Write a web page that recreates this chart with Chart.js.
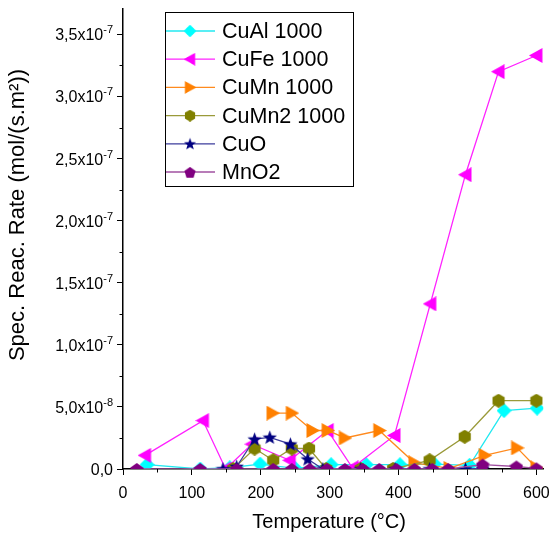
<!DOCTYPE html>
<html>
<head>
<meta charset="utf-8">
<script src="https://cdn.jsdelivr.net/npm/chart.js@4/dist/chart.umd.min.js"></script>
<style>
html, body { margin: 0; padding: 0; background: #fff; }
#wrap { width: 559px; height: 549px; position: relative; }
</style>
</head>
<body>
<div id="wrap"><canvas id="canvasId"></canvas></div>
<script>
// rates are in units of 1e-8 mol/(s.m2)
const seriesNames = ['CuAl 1000', 'CuFe 1000', 'CuMn 1000', 'CuMn2 1000', 'CuO', 'MnO2'];

const cuAlTemp = [35, 112, 155, 199, 250, 302, 353, 402, 452, 503, 553, 601];
const cuAlRate = [0.35, 0, 0.1, 0.4, 0.05, 0.35, 0.35, 0.35, 0.4, 0.3, 4.7, 4.9];

const cuFeTemp = [32, 116, 149, 187, 242, 297, 333, 394, 446, 497, 545, 600];
const cuFeRate = [1.1, 3.9, 0, 2.0, 0.7, 3.1, 0.1, 2.7, 13.3, 23.7, 32.0, 33.3];

const cuMnTemp = [217, 245, 275, 297, 322, 372, 423, 474, 525, 572, 600];
const cuMnRate = [4.5, 4.5, 3.1, 3.1, 2.5, 3.1, 0.5, 0.05, 1.1, 1.7, 0.1];

const cuMn2Temp = [160, 191, 218, 245, 270, 295, 345, 392, 445, 496, 545, 600];
const cuMn2Rate = [0, 1.65, 0.7, 1.65, 1.65, 0, 0, 0, 0.7, 2.6, 5.5, 5.5];

const cuOTemp = [145, 165, 191, 213, 243, 268, 290, 345, 395, 445, 497, 522];
const cuORate = [0, 0.2, 2.4, 2.55, 2.0, 0.8, 0, 0, 0, 0, 0, 0.05];

const mnO2Temp = [20, 112, 165, 218, 245, 271, 296, 322, 348, 372, 397, 423, 449, 472, 522, 571, 600];
const mnO2Rate = [0, 0, 0, 0, 0, 0, 0, 0, 0, 0, 0, 0, 0, 0, 0.35, 0.2, 0.05];

const xTickValues = [0, 100, 200, 300, 400, 500, 600];
const yTickValues = [0, 5, 10, 15, 20, 25, 30, 35];
const yTickMantissa = ['0,0', '5,0x10', '1,0x10', '1,5x10', '2,0x10', '2,5x10', '3,0x10', '3,5x10'];
const yTickExponent = ['', '-8', '-7', '-7', '-7', '-7', '-7', '-7'];
const xTitle = 'Temperature (°C)';
const yTitle = 'Spec. Reac. Rate (mol/(s.m²))';

const FONT = '"Liberation Sans", Arial, sans-serif';

const makeMarker = (shape, size, color) => {
    const c = document.createElement('canvas');
    c.width = size;
    c.height = size;
    const g = c.getContext('2d');
    const r = size / 2;
    g.fillStyle = color;
    g.beginPath();
    if (shape === 'diamond') {
        g.moveTo(r, 0); g.lineTo(size, r); g.lineTo(r, size); g.lineTo(0, r);
    } else if (shape === 'left') {
        g.moveTo(0, r); g.lineTo(size * 0.9, 0); g.lineTo(size * 0.9, size);
    } else if (shape === 'right') {
        g.moveTo(size, r); g.lineTo(size * 0.1, 0); g.lineTo(size * 0.1, size);
    } else if (shape === 'hexagon') {
        for (let k = 0; k < 6; k++) {
            const a = -Math.PI / 2 + k * Math.PI / 3;
            g.lineTo(r + r * Math.cos(a), r + r * Math.sin(a));
        }
    } else if (shape === 'star') {
        for (let k = 0; k < 10; k++) {
            const a = -Math.PI / 2 + k * Math.PI / 5;
            const rr = k % 2 ? r * 0.42 : r;
            g.lineTo(r + rr * Math.cos(a), r + 0.5 + rr * Math.sin(a));
        }
    } else if (shape === 'pentagon') {
        for (let k = 0; k < 5; k++) {
            const a = -Math.PI / 2 + k * 2 * Math.PI / 5;
            g.lineTo(r + r * Math.cos(a), r + 1 + r * Math.sin(a));
        }
    }
    g.closePath();
    g.fill();
    return c;
};

const markers = [
    makeMarker('diamond', 15, '#00ffff'),
    makeMarker('left', 15, '#ff00ff'),
    makeMarker('right', 15, '#ff8000'),
    makeMarker('hexagon', 14, '#808000'),
    makeMarker('star', 15, '#000080'),
    makeMarker('pentagon', 14, '#800080'),
];
const lineColors = ['#22e8f0', '#ff22ff', '#ff8a1e', '#9a9a3a', '#3c3c9c', '#a050a0'];

const temps = [cuAlTemp, cuFeTemp, cuMnTemp, cuMn2Temp, cuOTemp, mnO2Temp];
const rates = [cuAlRate, cuFeRate, cuMnRate, cuMn2Rate, cuORate, mnO2Rate];

const datasets = seriesNames.map((name, i) => ({
    label: name,
    data: temps[i].map((t, j) => ({ x: t, y: rates[i][j] })),
    showLine: true,
    borderColor: lineColors[i],
    borderWidth: 1.3,
    pointStyle: markers[i],
    pointRadius: 7,
    order: 6 - i,
}));

const decorPlugin = {
    id: 'decor',
    afterDraw(chart) {
        const ctx = chart.ctx;
        const xs = chart.scales.x;
        const ys = chart.scales.y;
        const area = chart.chartArea;
        ctx.save();
        // minor ticks
        ctx.strokeStyle = '#000';
        ctx.lineWidth = 1;
        ctx.beginPath();
        for (let v = 50; v < 610; v += 100) {
            const px = Math.round(xs.getPixelForValue(v)) + 0.5;
            ctx.moveTo(px, area.bottom);
            ctx.lineTo(px, area.bottom + 3.5);
        }
        for (let v = 2.5; v < 37; v += 5) {
            const py = Math.round(ys.getPixelForValue(v)) + 0.5;
            ctx.moveTo(area.left, py);
            ctx.lineTo(area.left - 3.5, py);
        }
        ctx.stroke();

        // y tick labels with raised exponent
        ctx.fillStyle = '#000';
        ctx.textBaseline = 'alphabetic';
        ctx.textAlign = 'right';
        const right = area.left - 10;
        yTickValues.forEach((v, i) => {
            const py = ys.getPixelForValue(v);
            ctx.font = '11px ' + FONT;
            const ew = yTickExponent[i] ? ctx.measureText(yTickExponent[i]).width : 0;
            if (ew) ctx.fillText(yTickExponent[i], right, py - 1);
            ctx.font = '16px ' + FONT;
            ctx.fillText(yTickMantissa[i], right - ew, py + 6);
        });

        // axis titles
        ctx.textAlign = 'center';
        ctx.textBaseline = 'middle';
        ctx.font = '20px ' + FONT;
        ctx.fillText(xTitle, (area.left + area.right) / 2 - 4, 522);
        ctx.save();
        ctx.translate(18, 215);
        ctx.rotate(-Math.PI / 2);
        ctx.font = '22px ' + FONT;
        ctx.fillText(yTitle, 0, 0);
        ctx.restore();

        // legend box
        const lx = 165, ly = 12, lw = 188, lh = 174;
        ctx.fillStyle = '#fff';
        ctx.fillRect(lx, ly, lw, lh);
        ctx.strokeStyle = '#000';
        ctx.lineWidth = 1;
        ctx.strokeRect(lx + 0.5, ly + 0.5, lw, lh);
        ctx.textAlign = 'left';
        ctx.font = '21.5px ' + FONT;
        chart.data.datasets.forEach((ds, i) => {
            const y = 31 + i * 28.2;
            ctx.strokeStyle = ds.borderColor;
            ctx.lineWidth = 1.3;
            ctx.beginPath();
            ctx.moveTo(lx + 1, y);
            ctx.lineTo(lx + 50, y);
            ctx.stroke();
            const m = ds.pointStyle;
            const s = 0.85;
            ctx.drawImage(m, lx + 25 - m.width * s / 2, y - m.height * s / 2, m.width * s, m.height * s);
            ctx.fillStyle = '#000';
            ctx.fillText(ds.label, lx + 57, y + 1);
        });
        ctx.restore();
    }
};

const ctx = document.querySelector('#canvasId');
const chart = new Chart(ctx, {
    type: 'scatter',
    data: { datasets },
    options: {
        animation: false,
        responsive: true,
        maintainAspectRatio: false,
        layout: { padding: { top: 5, right: 15, left: 0, bottom: 0 } },
        scales: {
            x: {
                type: 'linear',
                min: 0,
                max: 610,
                afterFit: (s) => { s.height = 80; },
                afterBuildTicks: (s) => { s.ticks = xTickValues.map(v => ({ value: v })); },
                border: { color: '#000', width: 1.5 },
                grid: { drawOnChartArea: false, color: '#000', tickLength: 6, tickColor: '#000' },
                ticks: {
                    color: '#000',
                    padding: 9,
                    autoSkip: false,
                    font: { family: FONT, size: 16 },
                    maxRotation: 0,
                },
            },
            y: {
                type: 'linear',
                min: 0,
                max: 37.1,
                afterFit: (s) => { s.width = 123; },
                afterBuildTicks: (s) => { s.ticks = yTickValues.map(v => ({ value: v })); },
                border: { color: '#000', width: 1.5 },
                grid: { drawOnChartArea: false, color: '#000', tickLength: 6, tickColor: '#000' },
                ticks: {
                    display: false,
                },
            },
        },
        plugins: {
            legend: { display: false },
            tooltip: { enabled: false },
        },
    },
    plugins: [decorPlugin],
});
</script>
</body>
</html>
